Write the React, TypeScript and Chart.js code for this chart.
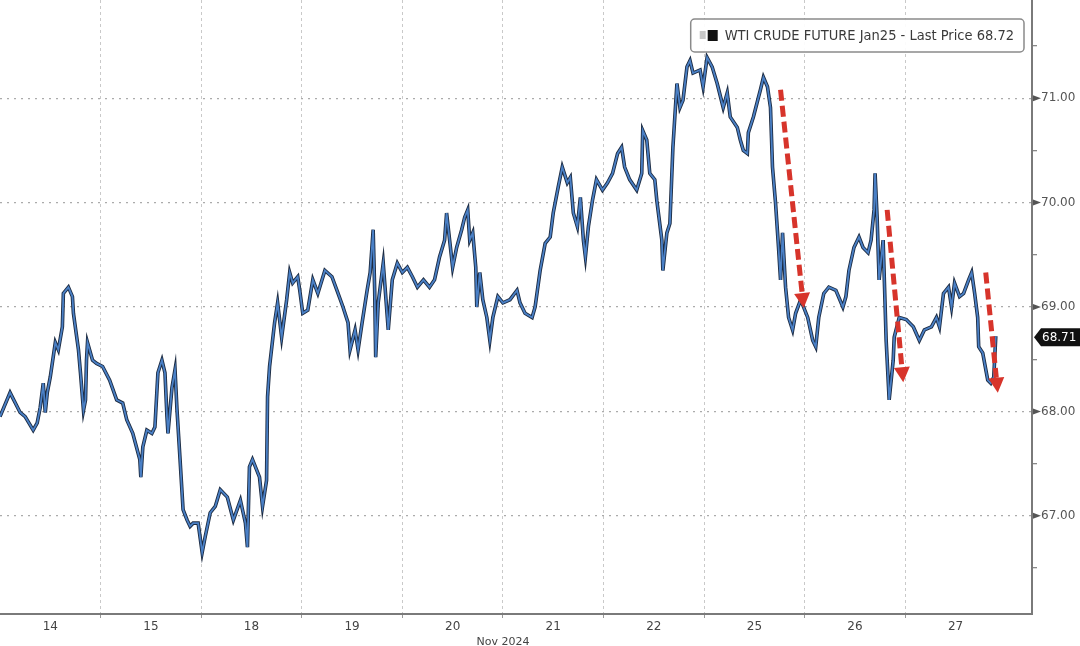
import React, { useEffect, useRef } from "react";
import { Chart, registerables } from "chart.js";

Chart.register(...registerables);

// ---- Data -------------------------------------------------------------
// x = trading-session position (0 = start of Nov 14 session, 1 = start of Nov 15 ...)
const sessionLabels = ["14", "15", "18", "19", "20", "21", "22", "25", "26", "27"];
const monthLabel = "Nov 2024";
const seriesLabel = "WTI CRUDE FUTURE Jan25 - Last Price 68.72";
const lastPriceTag = 68.71;
const yTickValues = [66.5, 67, 67.5, 68, 68.5, 69, 69.5, 70, 70.5, 71, 71.5];
const yRange = [66.06, 71.94];
const xRange = [0, 10.26];

const nov14 = [
  [0.0, 67.95], [0.1, 68.18], [0.2, 67.99], [0.25, 67.95], [0.33, 67.82], [0.37, 67.89],
  [0.4, 68.04], [0.43, 68.27], [0.45, 67.99], [0.47, 68.18], [0.5, 68.33], [0.55, 68.66],
  [0.58, 68.59], [0.62, 68.81], [0.63, 69.13], [0.68, 69.19], [0.72, 69.1], [0.73, 68.94],
  [0.78, 68.59], [0.8, 68.37], [0.83, 68.01], [0.85, 68.11], [0.86, 68.49], [0.87, 68.66],
  [0.92, 68.49], [0.96, 68.46],
];
const nov15 = [
  [1.02, 68.43], [1.09, 68.3], [1.16, 68.11], [1.22, 68.08], [1.26, 67.92], [1.32, 67.79],
  [1.39, 67.54], [1.4, 67.37], [1.42, 67.66], [1.46, 67.82], [1.51, 67.79], [1.54, 67.85],
  [1.57, 68.37], [1.61, 68.49], [1.64, 68.37], [1.66, 67.95], [1.67, 67.79], [1.71, 68.23],
  [1.74, 68.4], [1.76, 68.01], [1.79, 67.54], [1.82, 67.06], [1.86, 66.96], [1.89, 66.9],
  [1.92, 66.93], [1.97, 66.93],
];
const nov18 = [
  [2.01, 66.65], [2.04, 66.8], [2.09, 67.03], [2.14, 67.09], [2.19, 67.25], [2.26, 67.18],
  [2.32, 66.96], [2.39, 67.15], [2.44, 66.93], [2.46, 66.7], [2.48, 67.47], [2.51, 67.54],
  [2.58, 67.37], [2.61, 67.09], [2.65, 67.34], [2.66, 68.14], [2.68, 68.43], [2.73, 68.85],
  [2.76, 69.04], [2.8, 68.71], [2.85, 69.07], [2.88, 69.33], [2.91, 69.23], [2.96, 69.29],
  [2.98, 69.16],
];
const nov19 = [
  [3.01, 68.94], [3.06, 68.97], [3.11, 69.26], [3.16, 69.13], [3.23, 69.35], [3.3, 69.29],
  [3.35, 69.16], [3.41, 69.0], [3.46, 68.85], [3.48, 68.59], [3.53, 68.78], [3.56, 68.59],
  [3.6, 68.85], [3.65, 69.16], [3.68, 69.33], [3.71, 69.74], [3.725, 69.16], [3.735, 68.52],
  [3.76, 69.04], [3.81, 69.42], [3.86, 68.78], [3.9, 69.26], [3.95, 69.42],
];
const nov20 = [
  [4.0, 69.33], [4.05, 69.38], [4.1, 69.29], [4.15, 69.19], [4.21, 69.26], [4.27, 69.19],
  [4.32, 69.26], [4.37, 69.48], [4.42, 69.64], [4.44, 69.9], [4.47, 69.64], [4.5, 69.38],
  [4.54, 69.57], [4.59, 69.74], [4.62, 69.86], [4.65, 69.93], [4.67, 69.64], [4.7, 69.71],
  [4.73, 69.38], [4.74, 69.0], [4.77, 69.33], [4.8, 69.07], [4.84, 68.9], [4.87, 68.68],
  [4.9, 68.9], [4.95, 69.1],
];
const nov21 = [
  [5.0, 69.04], [5.07, 69.07], [5.14, 69.16], [5.17, 69.04], [5.22, 68.94], [5.29, 68.9],
  [5.32, 69.0], [5.37, 69.35], [5.42, 69.61], [5.47, 69.67], [5.5, 69.9], [5.55, 70.15],
  [5.59, 70.34], [5.64, 70.19], [5.67, 70.24], [5.7, 69.9], [5.74, 69.77], [5.77, 70.05],
  [5.8, 69.64], [5.82, 69.48], [5.85, 69.77], [5.89, 70.02], [5.93, 70.22], [5.99, 70.12],
];
const nov22 = [
  [6.04, 70.19], [6.09, 70.28], [6.14, 70.47], [6.18, 70.53], [6.21, 70.34], [6.26, 70.22],
  [6.33, 70.12], [6.38, 70.28], [6.39, 70.69], [6.43, 70.6], [6.46, 70.28], [6.51, 70.22],
  [6.53, 70.02], [6.58, 69.64], [6.59, 69.35], [6.63, 69.71], [6.66, 69.8], [6.69, 70.53],
  [6.73, 71.14], [6.76, 70.91], [6.79, 70.98], [6.83, 71.3], [6.86, 71.36], [6.89, 71.24],
  [6.96, 71.27], [6.99, 71.11],
];
const nov25 = [
  [7.03, 71.39], [7.08, 71.3], [7.13, 71.14], [7.19, 70.91], [7.23, 71.05], [7.26, 70.82],
  [7.33, 70.72], [7.36, 70.6], [7.39, 70.5], [7.43, 70.47], [7.44, 70.67], [7.49, 70.82],
  [7.56, 71.08], [7.59, 71.2], [7.63, 71.11], [7.66, 70.91], [7.68, 70.34], [7.71, 70.0],
  [7.74, 69.57], [7.76, 69.26], [7.78, 69.71], [7.81, 69.19], [7.84, 68.9], [7.88, 68.78],
  [7.91, 68.94], [7.96, 69.07],
];
const nov26 = [
  [8.03, 68.9], [8.08, 68.68], [8.11, 68.62], [8.14, 68.9], [8.19, 69.13], [8.24, 69.19],
  [8.31, 69.16], [8.38, 69.0], [8.41, 69.1], [8.44, 69.35], [8.49, 69.57], [8.54, 69.67],
  [8.58, 69.57], [8.63, 69.52], [8.66, 69.64], [8.69, 69.93], [8.7, 70.28], [8.72, 69.86],
  [8.74, 69.26], [8.78, 69.64], [8.81, 68.68], [8.84, 68.11], [8.88, 68.49], [8.89, 68.71],
  [8.94, 68.9],
];
const nov27 = [
  [9.01, 68.88], [9.08, 68.81], [9.14, 68.68], [9.19, 68.78], [9.26, 68.81], [9.31, 68.9],
  [9.34, 68.81], [9.38, 69.13], [9.43, 69.19], [9.46, 69.0], [9.49, 69.23], [9.54, 69.1],
  [9.58, 69.13], [9.63, 69.26], [9.66, 69.33], [9.69, 69.13], [9.72, 68.9], [9.73, 68.62],
  [9.77, 68.56], [9.82, 68.3], [9.85, 68.27], [9.88, 68.33], [9.9, 68.72],
];

// Red dashed annotation arrows (session position, price)
const arrowFrom = [[7.76, 71.08], [8.82, 69.93], [9.8, 69.33]];
const arrowTo = [[7.99, 68.99], [8.98, 68.28], [9.92, 68.18]];

// ---- Helpers -----------------------------------------------------------
const FONT = "'DejaVu Sans', sans-serif";
const LEGEND_FONT = "'DejaVu Sans Condensed', 'DejaVu Sans', sans-serif";
const isInt = (v: number) => Math.abs(v - Math.round(v)) < 1e-6;
const xTickValues: number[] = [];
for (let i = 0; i < sessionLabels.length; i++) {
  xTickValues.push(i + 0.5);
  if (i < sessionLabels.length - 1) xTickValues.push(i + 1);
}

const overlayPlugin = {
  id: "overlay",
  afterDatasetsDraw(chart: any) {
    const { ctx } = chart;
    const xs = chart.scales.x;
    const ys = chart.scales.y;
    ctx.save();
    for (let i = 0; i < arrowFrom.length; i++) {
      const x1 = xs.getPixelForValue(arrowFrom[i][0]);
      const y1 = ys.getPixelForValue(arrowFrom[i][1]);
      const x2 = xs.getPixelForValue(arrowTo[i][0]);
      const y2 = ys.getPixelForValue(arrowTo[i][1]);
      const ang = Math.atan2(y2 - y1, x2 - x1);
      const headLen = 15;
      const headW = 8;
      const bx = x2 - headLen * Math.cos(ang);
      const by = y2 - headLen * Math.sin(ang);
      ctx.strokeStyle = "#d7342b";
      ctx.lineWidth = 5;
      ctx.setLineDash([11, 5]);
      ctx.beginPath();
      ctx.moveTo(x1, y1);
      ctx.lineTo(bx, by);
      ctx.stroke();
      ctx.setLineDash([]);
      ctx.fillStyle = "#d7342b";
      ctx.beginPath();
      ctx.moveTo(x2, y2);
      ctx.lineTo(bx + headW * Math.sin(ang), by - headW * Math.cos(ang));
      ctx.lineTo(bx - headW * Math.sin(ang), by + headW * Math.cos(ang));
      ctx.closePath();
      ctx.fill();
    }
    ctx.restore();
  },
  afterDraw(chart: any) {
    const { ctx, chartArea } = chart;
    const xs = chart.scales.x;
    const ys = chart.scales.y;
    ctx.save();
    // arrow markers at labelled y ticks
    ctx.fillStyle = "#555";
    for (const v of yTickValues) {
      if (!isInt(v)) continue;
      const y = ys.getPixelForValue(v);
      const x0 = chartArea.right + 1;
      ctx.beginPath();
      ctx.moveTo(x0, y - 3);
      ctx.lineTo(x0 + 8, y);
      ctx.lineTo(x0, y + 3);
      ctx.closePath();
      ctx.fill();
    }
    // month label
    ctx.fillStyle = "#444";
    ctx.font = `11px ${FONT}`;
    ctx.textAlign = "center";
    ctx.textBaseline = "middle";
    ctx.fillText(monthLabel, xs.getPixelForValue(5), chartArea.bottom + 28);

    // legend box
    ctx.font = `14.5px ${LEGEND_FONT}`;
    const tw = ctx.measureText(seriesLabel).width;
    const boxW = tw + 44;
    const boxH = 33;
    const boxX = chartArea.right - 8 - boxW;
    const boxY = 19;
    ctx.fillStyle = "rgba(255,255,255,0.92)";
    ctx.strokeStyle = "#8a8a8a";
    ctx.lineWidth = 1.5;
    ctx.beginPath();
    (ctx as any).roundRect(boxX, boxY, boxW, boxH, 4);
    ctx.fill();
    ctx.stroke();
    ctx.fillStyle = "#c9c9c9";
    ctx.fillRect(boxX + 9, boxY + 12, 6, 8);
    ctx.fillStyle = "#111";
    ctx.fillRect(boxX + 17, boxY + 11, 10, 11);
    ctx.fillStyle = "#3a3a3a";
    ctx.textAlign = "left";
    ctx.fillText(seriesLabel, boxX + 34, boxY + boxH / 2 + 0.5);

    // last price tag
    const ty = ys.getPixelForValue(lastPriceTag);
    const tx = chartArea.right + 2;
    const right = chart.width;
    ctx.fillStyle = "#111";
    ctx.beginPath();
    ctx.moveTo(tx, ty);
    ctx.lineTo(tx + 7, ty - 9);
    ctx.lineTo(right, ty - 9);
    ctx.lineTo(right, ty + 9);
    ctx.lineTo(tx + 7, ty + 9);
    ctx.closePath();
    ctx.fill();
    ctx.fillStyle = "#fff";
    ctx.font = `12px ${FONT}`;
    ctx.textAlign = "left";
    ctx.fillText(lastPriceTag.toFixed(2), tx + 8, ty + 0.5);
    ctx.restore();
  },
};

export default function App() {
  const ref = useRef<HTMLCanvasElement | null>(null);

  useEffect(() => {
    if (!ref.current) return;
    const series = [
      ...nov14, ...nov15, ...nov18, ...nov19, ...nov20,
      ...nov21, ...nov22, ...nov25, ...nov26, ...nov27,
    ].map(([x, y]) => ({ x, y }));

    const chart = new Chart(ref.current, {
      type: "line",
      data: {
        datasets: [
          {
            label: seriesLabel,
            data: series,
            borderColor: "#4a80c6",
            borderWidth: 1.8,
            pointRadius: 0,
            tension: 0,
            order: 0,
          },
          {
            label: "outline",
            data: series,
            borderColor: "#1c2b42",
            borderWidth: 3.6,
            pointRadius: 0,
            tension: 0,
            order: 1,
          },
        ],
      },
      options: {
        animation: false,
        responsive: true,
        maintainAspectRatio: false,
        layout: { padding: 0 },
        plugins: { legend: { display: false }, tooltip: { enabled: false } },
        scales: {
          x: {
            type: "linear",
            min: xRange[0],
            max: xRange[1],
            afterBuildTicks: (s: any) => {
              s.ticks = xTickValues.map((v) => ({ value: v }));
            },
            afterFit: (s: any) => {
              s.height = 32;
              s.paddingLeft = 0;
              s.paddingRight = 0;
            },
            grid: {
              color: (c: any) => (c.tick && isInt(c.tick.value) ? "#c9c9c9" : "rgba(0,0,0,0)"),
              tickColor: (c: any) => (c.tick && isInt(c.tick.value) ? "#999" : "rgba(0,0,0,0)"),
              lineWidth: 1,
              tickLength: 4,
            },
            border: { display: true, color: "#7a7a7a", width: 2, dash: [3, 3] },
            ticks: {
              autoSkip: false,
              maxRotation: 0,
              padding: 2,
              color: "#444",
              font: { family: FONT, size: 12 },
              callback: (v: any) => {
                const n = Number(v);
                if (isInt(n)) return "";
                return sessionLabels[Math.floor(n)] ?? "";
              },
            },
          },
          y: {
            position: "right",
            min: yRange[0],
            max: yRange[1],
            afterBuildTicks: (s: any) => {
              s.ticks = yTickValues.map((v) => ({ value: v }));
            },
            afterFit: (s: any) => {
              s.width = 48;
              s.paddingTop = 0;
              s.paddingBottom = 0;
            },
            grid: {
              color: (c: any) => (c.tick && isInt(c.tick.value) ? "#ababab" : "rgba(0,0,0,0)"),
              tickColor: "#888",
              lineWidth: 1.3,
              tickLength: 5,
            },
            border: { display: true, color: "#7a7a7a", width: 2, dash: [2, 5] },
            ticks: {
              autoSkip: false,
              padding: 4,
              color: "#555",
              font: { family: FONT, size: 12 },
              callback: (v: any) => (isInt(Number(v)) ? Number(v).toFixed(2) : ""),
            },
          },
        },
      },
      plugins: [overlayPlugin],
    } as any);
    return () => chart.destroy();
  }, []);

  return (
    <div style={{ position: "fixed", left: 0, top: 0, width: 1080, height: 646, background: "#fff" }}>
      <canvas ref={ref} />
    </div>
  );
}
